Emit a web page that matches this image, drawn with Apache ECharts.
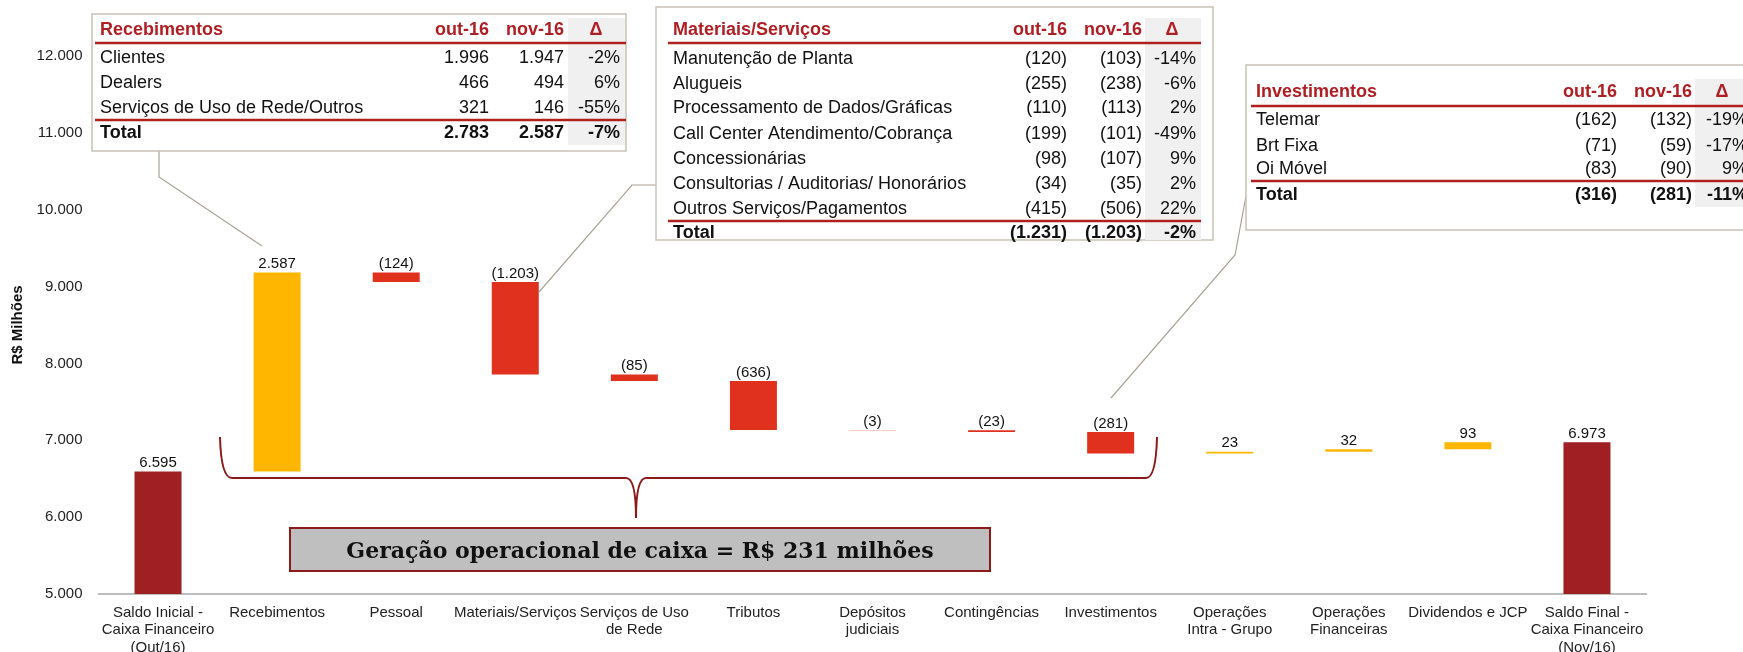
<!DOCTYPE html>
<html>
<head>
<meta charset="utf-8">
<script src="https://cdn.jsdelivr.net/npm/echarts@6/dist/echarts.min.js"></script>
<style>
  html, body { margin: 0; padding: 0; background: #fff; }
  #chart { width: 1743px; height: 652px; }
</style>
</head>
<body>
<div id="chart"></div>
<script>
// categorias do eixo x
const categorias = [
    'Saldo Inicial -\nCaixa Financeiro\n(Out/16)', 'Recebimentos', 'Pessoal', 'Materiais/Serviços',
    'Serviços de Uso\nde Rede', 'Tributos', 'Depósitos\njudiciais', 'Contingências', 'Investimentos',
    'Operações\nIntra - Grupo', 'Operações\nFinanceiras', 'Dividendos e JCP', 'Saldo Final -\nCaixa Financeiro\n(Nov/16)'
];
const saldoInicial = 6595;
const saldoFinal = 6973;
// variações entre saldo inicial e final (R$ milhões)
const variacoes = [2587, -124, -1203, -85, -636, -3, -23, -281, 23, 32, 93];
const eixoY = { min: 5000, max: 12000, interval: 1000 };

// tabelas dos destaques
const tabRecebimentos = [
    ['Clientes', '1.996', '1.947', '-2%'],
    ['Dealers', '466', '494', '6%'],
    ['Serviços de Uso de Rede/Outros', '321', '146', '-55%'],
];
const totRecebimentos = ['Total', '2.783', '2.587', '-7%'];

const tabMateriais = [
    ['Manutenção de Planta', '(120)', '(103)', '-14%'],
    ['Alugueis', '(255)', '(238)', '-6%'],
    ['Processamento de Dados/Gráficas', '(110)', '(113)', '2%'],
    ['Call Center Atendimento/Cobrança', '(199)', '(101)', '-49%'],
    ['Concessionárias', '(98)', '(107)', '9%'],
    ['Consultorias / Auditorias/ Honorários', '(34)', '(35)', '2%'],
    ['Outros Serviços/Pagamentos', '(415)', '(506)', '22%'],
];
const totMateriais = ['Total', '(1.231)', '(1.203)', '-2%'];

const tabInvestimentos = [
    ['Telemar', '(162)', '(132)', '-19%'],
    ['Brt Fixa', '(71)', '(59)', '-17%'],
    ['Oi Móvel', '(83)', '(90)', '9%'],
];
const totInvestimentos = ['Total', '(316)', '(281)', '-11%'];

const destaque = 'Geração operacional de caixa = R$ 231 milhões';

// monta as séries da cascata
const base = ['-'], positivos = ['-'], negativos = ['-'], saldos = [saldoInicial];
let nivel = saldoInicial;
variacoes.forEach(v => {
    if (v >= 0) {
        base.push(nivel);
        positivos.push(v);
        negativos.push('-');
        nivel += v;
    } else {
        nivel += v;
        base.push(nivel);
        negativos.push(-v);
        positivos.push('-');
    }
    saldos.push('-');
});
base.push('-'); positivos.push('-'); negativos.push('-'); saldos.push(saldoFinal);

const fmt = v => String(v).replace(/\B(?=(\d{3})+(?!\d))/g, '.');

const FONT = '"Liberation Sans", Arial, sans-serif';
const RED = '#AE1F24';
const BRACE = '#8B1A1A';

function txt(text, x, y, align, bold, color) {
    return {
        type: 'text', z: 20,
        style: {
            text, x, y,
            font: (bold ? 'bold ' : '') + '18px ' + FONT,
            fill: color || '#111',
            textAlign: align, textVerticalAlign: 'middle'
        }
    };
}

function line(x1, y1, x2, y2, color, w, z) {
    return { type: 'line', z: z || 19, shape: { x1, y1, x2, y2 }, style: { stroke: color, lineWidth: w } };
}

function curva(x1, y1, cpx1, cpy1, x2, y2) {
    return { type: 'bezierCurve', z: 12, shape: { x1, y1, cpx1, cpy1, x2, y2 }, style: { stroke: BRACE, lineWidth: 2, fill: null } };
}

// desenha uma tabela de destaque
function tabela(cfg) {
    const els = [];
    els.push({ type: 'rect', z: 15, shape: cfg.box, style: { fill: '#fff', stroke: '#C8C2B8', lineWidth: 1.5 } });
    els.push({ type: 'rect', z: 16, shape: cfg.gray, style: { fill: '#F0F0F0' } });
    els.push(txt(cfg.titulo, cfg.textX, cfg.headY, 'left', true, RED));
    els.push(txt('out-16', cfg.col1, cfg.headY, 'right', true, RED));
    els.push(txt('nov-16', cfg.col2, cfg.headY, 'right', true, RED));
    els.push(txt('Δ', cfg.deltaC, cfg.headY, 'center', true, RED));
    els.push(line(cfg.ruleX1, cfg.rule1, cfg.ruleX2, cfg.rule1, '#B0201F', 2.5));
    cfg.rows.forEach((r, i) => {
        const y = cfg.rowY[i];
        els.push(txt(r[0], cfg.textX, y, 'left'));
        els.push(txt(r[1], cfg.col1, y, 'right'));
        els.push(txt(r[2], cfg.col2, y, 'right'));
        els.push(txt(r[3], cfg.col3, y, 'right'));
    });
    els.push(line(cfg.ruleX1, cfg.rule2, cfg.ruleX2, cfg.rule2, '#B0201F', 2.5));
    const t = cfg.total;
    els.push(txt(t[0], cfg.textX, cfg.totY, 'left', true));
    els.push(txt(t[1], cfg.col1, cfg.totY, 'right', true));
    els.push(txt(t[2], cfg.col2, cfg.totY, 'right', true));
    els.push(txt(t[3], cfg.col3, cfg.totY, 'right', true));
    return els;
}

const graficos = [].concat(
    tabela({
        titulo: 'Recebimentos', rows: tabRecebimentos, total: totRecebimentos,
        box: { x: 92, y: 14, width: 534, height: 137 },
        gray: { x: 568, y: 18, width: 57, height: 127 },
        textX: 100, col1: 489, col2: 564, col3: 620, deltaC: 596,
        headY: 30, rowY: [58, 83, 108], totY: 133,
        rule1: 43, rule2: 120, ruleX1: 95, ruleX2: 626
    }),
    tabela({
        titulo: 'Materiais/Serviços', rows: tabMateriais, total: totMateriais,
        box: { x: 656, y: 7, width: 557, height: 233 },
        gray: { x: 1145, y: 18, width: 56, height: 222 },
        textX: 673, col1: 1067, col2: 1142, col3: 1196, deltaC: 1172,
        headY: 30, rowY: [59, 84, 108, 134, 159, 184, 209], totY: 233,
        rule1: 43, rule2: 221, ruleX1: 668, ruleX2: 1201
    }),
    tabela({
        titulo: 'Investimentos', rows: tabInvestimentos, total: totInvestimentos,
        box: { x: 1246, y: 65, width: 520, height: 165 },
        gray: { x: 1695, y: 79, width: 60, height: 128 },
        textX: 1256, col1: 1617, col2: 1692, col3: 1748, deltaC: 1722,
        headY: 92, rowY: [120, 146, 169], totY: 195,
        rule1: 106, rule2: 181, ruleX1: 1251, ruleX2: 1743
    }),
    [
        // linhas de chamada
        { type: 'polyline', z: 12, shape: { points: [[159, 151], [159, 177], [262, 246]] }, style: { stroke: '#AAA293', lineWidth: 1.2, fill: null } },
        { type: 'polyline', z: 12, shape: { points: [[656, 185], [632, 185], [539, 292]] }, style: { stroke: '#AAA293', lineWidth: 1.2, fill: null } },
        { type: 'polyline', z: 12, shape: { points: [[1246, 196], [1235, 255], [1111, 398]] }, style: { stroke: '#AAA293', lineWidth: 1.2, fill: null } },
        // chave
        curva(220, 437, 221, 478, 232, 478),
        line(232, 478, 626, 478, BRACE, 2, 12),
        curva(626, 478, 636, 478, 636, 518),
        curva(636, 518, 636, 478, 646, 478),
        line(646, 478, 1146, 478, BRACE, 2, 12),
        curva(1146, 478, 1156, 478, 1157, 437),
        { type: 'rect', z: 12, shape: { x: 290, y: 528, width: 700, height: 43 }, style: { fill: '#BFBFBF', stroke: BRACE, lineWidth: 2 } },
        {
            type: 'text', z: 13,
            style: {
                text: destaque, x: 640, y: 552,
                font: 'bold 22px "DejaVu Serif", Georgia, serif', fill: '#111',
                textAlign: 'center', textVerticalAlign: 'middle'
            }
        }
    ]
);

const rotulo = { show: true, position: 'top', distance: 1, color: '#111', fontFamily: FONT, fontSize: 15 };

const myChart = echarts.init(document.getElementById('chart'));
myChart.setOption({
    animation: false,
    grid: { left: 98.5, right: 96.5, top: 56, bottom: 58, outerBoundsMode: 'none', containLabel: false },
    xAxis: {
        type: 'category',
        data: categorias,
        axisTick: { show: false },
        axisLine: { lineStyle: { color: '#A6A6A6', width: 1.5 } },
        axisLabel: { interval: 0, color: '#222', fontFamily: FONT, fontSize: 15, lineHeight: 17.5, margin: 10 }
    },
    yAxis: {
        type: 'value',
        min: eixoY.min, max: eixoY.max, interval: eixoY.interval,
        name: 'R$ Milhões', nameLocation: 'middle', nameRotate: 90, nameGap: 70,
        nameTextStyle: { fontFamily: FONT, fontSize: 15, fontWeight: 'bold', color: '#111' },
        axisLine: { show: false },
        axisTick: { show: false },
        splitLine: { show: false },
        axisLabel: { color: '#222', fontFamily: FONT, fontSize: 15, margin: 16, formatter: v => fmt(v) }
    },
    series: [
        {
            name: 'base', type: 'bar', stack: 'w', barWidth: 47, data: base,
            itemStyle: { color: 'transparent' }, emphasis: { disabled: true }
        },
        {
            name: 'positivos', type: 'bar', stack: 'w', barWidth: 47, data: positivos,
            itemStyle: { color: '#FFB600' },
            label: Object.assign({}, rotulo, { formatter: p => fmt(p.value) })
        },
        {
            name: 'negativos', type: 'bar', stack: 'w', barWidth: 47, data: negativos,
            itemStyle: { color: '#E0311F' },
            label: Object.assign({}, rotulo, { formatter: p => '(' + fmt(p.value) + ')' })
        },
        {
            name: 'saldos', type: 'bar', stack: 'w', barWidth: 47, data: saldos,
            itemStyle: { color: '#A01F22' },
            label: Object.assign({}, rotulo, { formatter: p => fmt(p.value) })
        }
    ],
    graphic: { elements: graficos }
});
</script>
</body>
</html>
